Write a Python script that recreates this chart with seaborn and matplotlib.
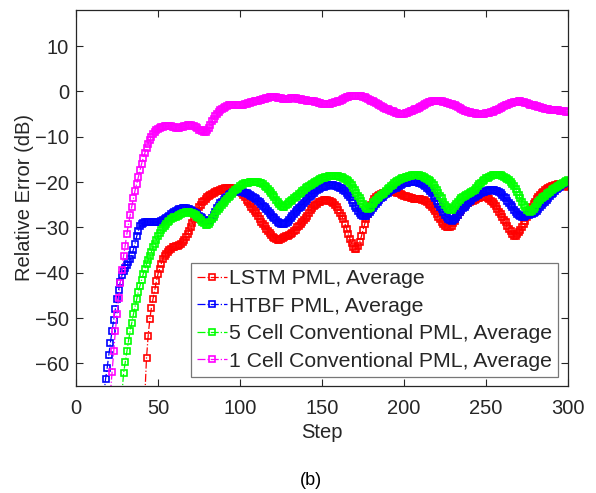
import numpy as np
import matplotlib
matplotlib.use("Agg")
import matplotlib.pyplot as plt
import seaborn as sns

# relative error (dB) per step, each series ends at step 300
lstm_err = [
    -67.0, -58.8, -54.0, -50.3, -47.7, -45.7, -43.9, -41.9, -40.3, -39.1,
    -38.0, -37.0, -36.3, -35.8, -35.4, -35.0, -34.7, -34.4, -34.3, -34.1,
    -34.0, -33.8, -33.7, -33.3, -32.7, -32.1, -31.4, -30.7, -29.9, -29.1,
    -28.2, -27.3, -26.4, -25.6, -25.0, -24.5, -24.1, -23.7, -23.4, -23.1,
    -22.8, -22.6, -22.4, -22.2, -22.0, -21.9, -21.7, -21.6, -21.5, -21.4,
    -21.4, -21.3, -21.3, -21.4, -21.5, -21.6, -21.8, -22.0, -22.2, -22.5,
    -22.9, -23.4, -23.9, -24.4, -24.9, -25.4, -25.9, -26.4, -26.9, -27.5,
    -28.1, -28.7, -29.3, -29.8, -30.3, -30.8, -31.2, -31.7, -32.1, -32.4,
    -32.6, -32.7, -32.7, -32.6, -32.4, -32.2, -32.0, -31.8, -31.7, -31.5,
    -31.2, -30.9, -30.5, -30.0, -29.6, -29.2, -28.8, -28.4, -28.0, -27.4,
    -26.8, -26.2, -25.7, -25.3, -25.0, -24.8, -24.5, -24.3, -24.1, -24.0,
    -24.0, -24.0, -24.1, -24.2, -24.4, -24.6, -25.0, -25.5, -26.1, -26.8,
    -27.5, -28.2, -29.2, -30.3, -31.4, -32.5, -33.5, -34.3, -34.8, -34.7,
    -34.1, -33.2, -32.0, -30.6, -29.3, -28.1, -27.0, -26.0, -25.1, -24.3,
    -23.7, -23.3, -23.0, -22.8, -22.6, -22.5, -22.3, -22.2, -22.1, -22.0,
    -22.0, -22.0, -22.1, -22.2, -22.3, -22.4, -22.6, -22.8, -23.0, -23.1,
    -23.3, -23.4, -23.5, -23.6, -23.7, -23.7, -23.8, -23.8, -23.8, -23.9,
    -24.0, -24.2, -24.5, -24.8, -25.1, -25.5, -25.9, -26.4, -27.0, -27.6,
    -28.2, -28.8, -29.3, -29.7, -29.9, -30.0, -29.9, -29.6, -29.1, -28.5,
    -27.8, -27.2, -26.6, -26.1, -25.6, -25.2, -24.9, -24.6, -24.4, -24.2,
    -24.1, -23.9, -23.8, -23.6, -23.5, -23.4, -23.4, -23.4, -23.4, -23.6,
    -23.8, -24.1, -24.5, -24.9, -25.3, -25.9, -26.5, -27.1, -27.7, -28.3,
    -28.9, -29.6, -30.3, -30.9, -31.5, -31.9, -31.8, -31.4, -31.0, -30.5,
    -30.0, -29.3, -28.5, -27.7, -26.9, -26.1, -25.5, -24.9, -24.3, -23.7,
    -23.2, -22.8, -22.4, -22.1, -21.8, -21.6, -21.3, -21.1, -20.9, -20.8,
    -20.7, -20.6, -20.5, -20.5, -20.5, -20.6, -20.7, -20.8, -21.0,
]

htbf_err = [
    -67.0, -63.5, -61.0, -58.2, -55.4, -52.8, -50.4, -48.0, -45.8, -43.8,
    -42.0, -40.6, -39.6, -39.0, -38.4, -37.7, -36.9, -36.0, -34.9, -33.6,
    -32.0, -30.8, -29.8, -29.2, -29.0, -28.9, -28.8, -28.8, -28.8, -28.8,
    -28.8, -28.8, -28.8, -28.8, -28.7, -28.6, -28.4, -28.2, -28.0, -27.7,
    -27.4, -27.1, -26.8, -26.5, -26.3, -26.1, -26.0, -25.9, -25.8, -25.8,
    -25.8, -25.9, -26.0, -26.1, -26.3, -26.5, -26.8, -27.1, -27.4, -27.7,
    -28.0, -28.3, -28.5, -28.6, -28.6, -28.4, -28.0, -27.3, -26.5, -25.8,
    -25.2, -24.7, -24.3, -23.9, -23.5, -23.2, -22.9, -22.6, -22.4, -22.2,
    -22.1, -22.0, -22.0, -22.0, -22.1, -22.2, -22.3, -22.4, -22.6, -22.8,
    -23.0, -23.2, -23.5, -23.8, -24.1, -24.4, -24.8, -25.2, -25.6, -26.0,
    -26.4, -26.8, -27.2, -27.6, -28.0, -28.4, -28.7, -29.0, -29.2, -29.3,
    -29.3, -29.1, -28.8, -28.4, -28.0, -27.5, -27.0, -26.6, -26.2, -25.8,
    -25.4, -25.0, -24.6, -24.2, -23.8, -23.4, -23.0, -22.6, -22.3, -22.0,
    -21.7, -21.5, -21.3, -21.1, -21.0, -20.9, -20.8, -20.7, -20.7, -20.7,
    -20.7, -20.8, -20.9, -21.0, -21.2, -21.4, -21.7, -22.0, -22.4, -22.9,
    -23.4, -24.0, -24.6, -25.2, -25.8, -26.3, -26.8, -27.2, -27.4, -27.5,
    -27.4, -27.1, -26.7, -26.2, -25.7, -25.2, -24.8, -24.4, -24.0, -23.6,
    -23.2, -22.9, -22.6, -22.3, -22.0, -21.8, -21.6, -21.4, -21.2, -21.0,
    -20.8, -20.6, -20.5, -20.3, -20.2, -20.1, -20.0, -19.9, -19.9, -19.9,
    -19.9, -20.0, -20.1, -20.2, -20.4, -20.6, -20.9, -21.2, -21.6, -22.0,
    -22.5, -23.0, -23.6, -24.2, -24.8, -25.4, -26.0, -26.6, -27.2, -27.7,
    -28.1, -28.4, -28.5, -28.4, -28.1, -27.7, -27.2, -26.7, -26.2, -25.8,
    -25.4, -25.0, -24.6, -24.2, -23.9, -23.6, -23.3, -23.0, -22.8, -22.6,
    -22.4, -22.2, -22.1, -22.0, -21.9, -21.8, -21.8, -21.8, -21.8, -21.9,
    -22.0, -22.2, -22.5, -22.8, -23.2, -23.6, -24.1, -24.6, -25.1, -25.6,
    -26.1, -26.6, -27.0, -27.3, -27.5, -27.6, -27.6, -27.5, -27.3, -27.2,
    -27.1, -27.0, -26.8, -26.6, -26.3, -25.9, -25.5, -25.1, -24.7, -24.3,
    -23.9, -23.5, -23.1, -22.7, -22.3, -21.9, -21.6, -21.3, -21.0, -20.7,
    -20.4, -20.1, -19.9, -19.7,
]

cell5_err = [
    -67.0, -62.2, -59.8, -57.3, -55.1, -52.8, -51.1, -49.2, -47.5, -45.9,
    -44.2, -42.9, -41.6, -40.3, -39.2, -38.1, -37.2, -36.3, -35.4, -34.4,
    -33.6, -32.8, -32.0, -31.2, -30.6, -30.1, -29.6, -29.2, -28.8, -28.5,
    -28.2, -28.0, -27.8, -27.6, -27.4, -27.2, -27.0, -26.9, -26.8, -26.7,
    -26.7, -26.7, -26.8, -26.9, -27.1, -27.3, -27.6, -27.9, -28.3, -28.7,
    -29.1, -29.4, -29.5, -29.3, -28.8, -28.2, -27.6, -27.0, -26.4, -25.9,
    -25.4, -25.0, -24.6, -24.2, -23.8, -23.4, -23.0, -22.6, -22.2, -21.8,
    -21.5, -21.2, -20.9, -20.7, -20.5, -20.3, -20.2, -20.1, -20.0, -19.9,
    -19.9, -19.9, -19.9, -20.0, -20.1, -20.3, -20.5, -20.8, -21.1, -21.5,
    -21.9, -22.4, -22.9, -23.4, -23.9, -24.4, -24.9, -25.3, -25.5, -25.4,
    -25.1, -24.8, -24.5, -24.2, -23.9, -23.6, -23.3, -23.0, -22.6, -22.3,
    -22.0, -21.7, -21.4, -21.1, -20.8, -20.6, -20.4, -20.2, -20.0, -19.8,
    -19.6, -19.4, -19.2, -19.0, -18.9, -18.8, -18.7, -18.6, -18.6, -18.6,
    -18.6, -18.6, -18.7, -18.8, -18.9, -19.1, -19.3, -19.5, -19.8, -20.2,
    -20.7, -21.2, -21.8, -22.4, -23.0, -23.6, -24.2, -24.8, -25.3, -25.7,
    -25.9, -25.8, -25.4, -24.9, -24.4, -23.9, -23.5, -23.2, -22.9, -22.6,
    -22.3, -22.0, -21.6, -21.2, -20.9, -20.6, -20.3, -20.0, -19.8, -19.6,
    -19.4, -19.2, -19.0, -18.9, -18.8, -18.7, -18.6, -18.5, -18.5, -18.4,
    -18.4, -18.5, -18.6, -18.7, -18.9, -19.1, -19.3, -19.5, -19.8, -20.2,
    -20.7, -21.2, -21.8, -22.4, -23.0, -23.6, -24.3, -25.0, -25.6, -26.0,
    -26.2, -26.1, -25.8, -25.3, -24.8, -24.3, -23.9, -23.6, -23.3, -23.0,
    -22.8, -22.6, -22.4, -22.2, -22.0, -21.7, -21.3, -20.9, -20.5, -20.1,
    -19.8, -19.5, -19.2, -19.0, -18.8, -18.6, -18.5, -18.4, -18.4, -18.4,
    -18.4, -18.5, -18.6, -18.8, -19.0, -19.3, -19.6, -20.0, -20.4, -20.9,
    -21.5, -22.2, -22.9, -23.6, -24.3, -25.0, -25.6, -26.1, -26.4, -26.5,
    -26.3, -25.9, -25.4, -24.9, -24.4, -24.0, -23.6, -23.3, -23.0, -22.7,
    -22.4, -22.1, -21.8, -21.5, -21.2, -21.0, -20.8, -20.6, -20.4, -20.2,
    -20.0, -19.8, -19.6,
]

cell1_err = [
    -66.5, -61.9, -57.3, -52.9, -49.2, -45.5, -42.2, -39.4, -36.3, -34.0,
    -31.5, -29.3, -27.3, -25.4, -23.6, -21.9, -20.4, -18.9, -17.4, -16.0,
    -14.7, -13.6, -12.5, -11.5, -10.7, -10.0, -9.4, -8.9, -8.5, -8.2,
    -8.0, -7.9, -7.8, -7.7, -7.7, -7.7, -7.7, -7.7, -7.8, -7.9,
    -8.0, -8.0, -8.0, -7.9, -7.8, -7.7, -7.6, -7.5, -7.5, -7.5,
    -7.6, -7.7, -7.9, -8.1, -8.4, -8.6, -8.8, -8.9, -8.9, -8.6,
    -8.0, -7.3, -6.6, -6.0, -5.5, -5.0, -4.6, -4.2, -3.9, -3.6,
    -3.4, -3.2, -3.1, -3.0, -2.9, -2.9, -2.9, -2.9, -2.9, -2.9,
    -2.9, -2.9, -2.8, -2.7, -2.6, -2.5, -2.4, -2.3, -2.2, -2.1,
    -2.0, -1.9, -1.8, -1.7, -1.6, -1.5, -1.4, -1.3, -1.3, -1.2,
    -1.2, -1.3, -1.4, -1.5, -1.5, -1.6, -1.6, -1.7, -1.6, -1.6,
    -1.5, -1.5, -1.5, -1.5, -1.6, -1.7, -1.7, -1.8, -1.8, -1.9,
    -2.0, -2.0, -2.1, -2.1, -2.2, -2.3, -2.4, -2.5, -2.6, -2.7,
    -2.8, -2.8, -2.8, -2.8, -2.7, -2.6, -2.5, -2.4, -2.3, -2.2,
    -2.0, -1.8, -1.6, -1.4, -1.3, -1.2, -1.1, -1.0, -1.0, -1.0,
    -1.0, -1.0, -1.1, -1.1, -1.2, -1.3, -1.4, -1.6, -1.8, -2.0,
    -2.2, -2.4, -2.6, -2.8, -3.0, -3.2, -3.4, -3.6, -3.8, -3.9,
    -4.1, -4.3, -4.4, -4.6, -4.7, -4.8, -4.9, -4.9, -4.9, -4.9,
    -4.8, -4.7, -4.6, -4.4, -4.3, -4.1, -3.9, -3.8, -3.6, -3.4,
    -3.2, -3.0, -2.8, -2.6, -2.4, -2.3, -2.2, -2.1, -2.1, -2.0,
    -2.0, -2.1, -2.2, -2.3, -2.4, -2.5, -2.6, -2.7, -2.8, -2.9,
    -3.1, -3.3, -3.5, -3.7, -3.9, -4.1, -4.3, -4.4, -4.5, -4.6,
    -4.7, -4.8, -4.8, -4.9, -4.9, -4.9, -4.9, -4.9, -4.9, -4.8,
    -4.8, -4.7, -4.6, -4.5, -4.4, -4.2, -4.1, -3.9, -3.7, -3.5,
    -3.3, -3.1, -2.9, -2.8, -2.6, -2.5, -2.4, -2.3, -2.3, -2.2,
    -2.2, -2.3, -2.3, -2.5, -2.6, -2.8, -2.9, -3.0, -3.1, -3.2,
    -3.3, -3.4, -3.5, -3.6, -3.7, -3.8, -3.8, -3.9, -4.0, -4.0,
    -4.1, -4.1, -4.2, -4.2, -4.3, -4.3, -4.4, -4.4, -4.5, -4.5,
]

labels = ["LSTM PML, Average", "HTBF PML, Average",
          "5 Cell Conventional PML, Average", "1 Cell Conventional PML, Average"]
colors = ["#ff0000", "#0000ff", "#00ff00", "#ff00ff"]
series = [lstm_err, htbf_err, cell5_err, cell1_err]
last_step = 300

sns.set_style("ticks")
plt.rcParams["font.family"] = ["Liberation Sans", "DejaVu Sans"]
axcol = "#262626"

fig = plt.figure(figsize=(5.96, 4.93), dpi=100)
ax = fig.add_axes([0.1275, 0.217, 0.8255, 0.763])

for vals, lab, col in zip(series, labels, colors):
    steps = np.arange(last_step - len(vals) + 1, last_step + 1)
    sns.lineplot(x=steps, y=vals, ax=ax, color=col, label=lab,
                 linestyle="-.", linewidth=0.9, marker="s", markersize=4.8,
                 markerfacecolor="none", markeredgecolor=col,
                 markeredgewidth=1.2, errorbar=None)

ax.set_xlim(0, 300)
ax.set_ylim(-65, 18)
ax.set_xticks(np.arange(0, 301, 50))
ax.set_yticks(np.arange(-60, 11, 10))
ax.tick_params(direction="in", top=True, right=True, length=5, width=0.8,
               colors=axcol, labelsize=14.5, pad=5)
ax.tick_params(axis="x", pad=9)
for s in ax.spines.values():
    s.set_color(axcol)
    s.set_linewidth(0.9)
ax.set_xlabel("Step", fontsize=14.5, color=axcol, labelpad=4)
ax.set_ylabel("Relative Error (dB)", fontsize=14.5, color=axcol, labelpad=1)

leg = ax.legend(loc="lower right", bbox_to_anchor=(0.98, 0.024),
                borderaxespad=0, fontsize=15.3, handlelength=1.4,
                handletextpad=0.08, labelspacing=0.4, borderpad=0.3,
                frameon=True, fancybox=False)
leg.get_frame().set_edgecolor("#555555")
leg.get_frame().set_linewidth(0.9)

fig.text(0.522, 0.026, "(b)", ha="center", va="center", fontsize=13,
         color="black")

fig.savefig("out.png", dpi=100)
